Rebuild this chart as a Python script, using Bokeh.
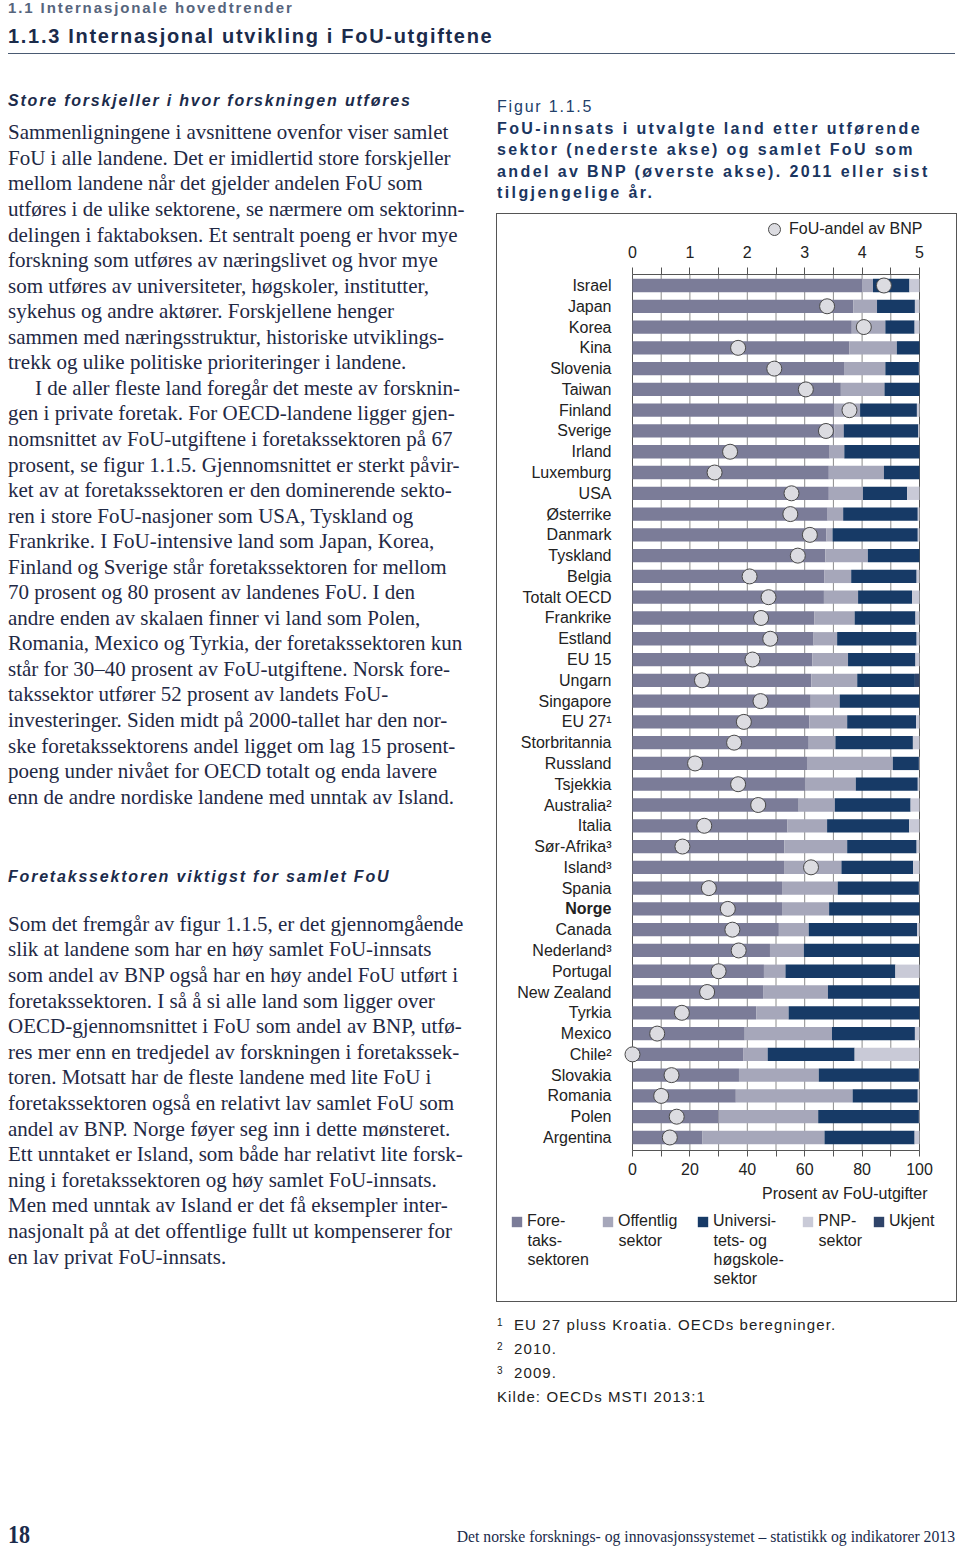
from bokeh.plotting import figure
from bokeh.models import (ColumnDataSource, Range1d, LinearAxis, FixedTicker,
                          Legend, LegendItem, Label, Div)
from bokeh.layouts import column, row
from bokeh.core.properties import value
from bokeh.embed import file_html
from bokeh.resources import INLINE

# ---------------- data ----------------
countries = ["Israel", "Japan", "Korea", "Kina", "Slovenia", "Taiwan", "Finland", "Sverige",
             "Irland", "Luxemburg", "USA", "Østerrike", "Danmark", "Tyskland", "Belgia",
             "Totalt OECD", "Frankrike", "Estland", "EU 15", "Ungarn", "Singapore", "EU 27¹",
             "Storbritannia", "Russland", "Tsjekkia", "Australia²", "Italia", "Sør-Afrika³",
             "Island³", "Spania", "Norge", "Canada", "Nederland³", "Portugal", "New Zealand",
             "Tyrkia", "Mexico", "Chile²", "Slovakia", "Romania", "Polen", "Argentina"]
foretak = [80.0, 76.9, 76.4, 75.6, 73.7, 72.6, 70.2, 70.3, 68.7, 68.4,
           68.4, 68.0, 67.6, 67.2, 66.9, 66.7, 63.4, 63.1, 62.7, 62.3,
           62.1, 61.6, 61.4, 60.8, 60.1, 57.9, 54.0, 52.9, 52.8, 52.1,
           52.1, 51.0, 47.9, 45.8, 45.5, 43.1, 39.1, 38.7, 37.1, 36.0,
           30.0, 24.4]
offentlig = [3.8, 8.3, 11.7, 16.5, 14.4, 15.2, 9.1, 3.3, 5.1, 19.2,
             11.9, 5.4, 2.1, 14.8, 9.3, 11.9, 14.0, 8.2, 12.4, 16.0,
             10.1, 13.2, 9.3, 29.9, 17.7, 12.6, 13.8, 21.9, 20.0, 19.4,
             16.4, 10.4, 11.8, 7.5, 22.6, 11.3, 30.4, 8.4, 27.8, 40.7,
             34.7, 42.5]
universitet = [12.7, 13.2, 10.2, 7.9, 11.7, 12.2, 19.8, 26.0, 26.2, 12.4,
               15.4, 26.0, 29.7, 18.0, 22.8, 18.8, 21.2, 27.7, 23.5, 20.1,
               27.8, 24.0, 27.0, 9.1, 21.6, 26.4, 28.6, 24.2, 25.0, 28.3,
               31.5, 37.8, 40.3, 38.3, 31.9, 45.6, 28.9, 30.3, 34.9, 22.7,
               35.1, 31.4]
pnp = [3.5, 1.6, 1.7, 0.0, 0.2, 0.0, 0.9, 0.4, 0.0, 0.0,
       4.3, 0.6, 0.6, 0.0, 1.0, 2.6, 1.4, 1.0, 1.4, 0.0,
       0.0, 1.2, 2.3, 0.2, 0.6, 3.1, 3.6, 1.0, 2.2, 0.2,
       0.0, 0.8, 0.0, 8.4, 0.0, 0.0, 1.6, 22.6, 0.2, 0.6,
       0.2, 1.7]
ukjent = [0.0, 0.0, 0.0, 0.0, 0.0, 0.0, 0.0, 0.0, 0.0, 0.0,
          0.0, 0.0, 0.0, 0.0, 0.0, 0.0, 0.0, 0.0, 0.0, 1.6,
          0.0, 0.0, 0.0, 0.0, 0.0, 0.0, 0.0, 0.0, 0.0, 0.0,
          0.0, 0.0, 0.0, 0.0, 0.0, 0.0, 0.0, 0.0, 0.0, 0.0,
          0.0, 0.0]
fou_bnp = [4.38, 3.39, 4.03, 1.84, 2.47, 3.02, 3.78, 3.37, 1.70, 1.43,
           2.77, 2.75, 3.09, 2.88, 2.04, 2.37, 2.24, 2.40, 2.09, 1.21,
           2.23, 1.94, 1.77, 1.09, 1.84, 2.19, 1.25, 0.87, 3.11, 1.33,
           1.66, 1.74, 1.85, 1.50, 1.30, 0.86, 0.43, 0.0, 0.68, 0.50,
           0.77, 0.65]
pct_ticks = [0, 20, 40, 60, 80, 100]
pct_minor = [10, 30, 50, 70, 90]
pct_grid = [10, 20, 30, 40, 50, 60, 70, 80, 90]
pct_edges = [0, 100]
bnp_ticks = [0, 1, 2, 3, 4, 5]
bnp_minor = [0.5, 1.5, 2.5, 3.5, 4.5]
sector_keys = ["fore", "off", "univ", "pnp", "ukj"]
sector_labels = [["Fore-", "taks-", "sektoren"], ["Offentlig", "sektor"],
                 ["Universi-", "tets- og", "høgskole-", "sektor"], ["PNP-", "sektor"], ["Ukjent"]]
sector_colors = ["#7b7c98", "#a6a7ba", "#173a66", "#c9cad7", "#2f4469"]

SANS = "Liberation Sans"
SERIF = "Liberation Serif"
TXT = "#222222"

# ---------------- chart geometry (pixels inside the framed box) ----------------
FIG_W, FIG_H = 459, 1087
LEFT_PX = 135            # 0 % line, from box left
PX_PER_PCT = 2.87
ROW0_PX = 71             # centre of first bar, from box top
PX_PER_ROW = 20.78
x_lo = -LEFT_PX / PX_PER_PCT
x_hi = x_lo + FIG_W / PX_PER_PCT
y_top = -ROW0_PX / PX_PER_ROW
y_bot = y_top + FIG_H / PX_PER_ROW
bar_top = -0.53          # edge of bar area (top axis sits here)
bar_bot = 41.63          # edge of bar area (bottom axis sits here)


def px_to_x(px):
    return x_lo + px / PX_PER_PCT


def px_to_y(py):
    return y_top + py / PX_PER_ROW


src = ColumnDataSource(dict(
    idx=list(range(len(countries))), country=countries,
    style=["bold" if c == "Norge" else "normal" for c in countries],
    fore=foretak, off=offentlig, univ=universitet, pnp=pnp, ukj=ukjent, bnp=fou_bnp))

p = figure(width=FIG_W, height=FIG_H, x_range=Range1d(x_lo, x_hi), y_range=Range1d(y_bot, y_top),
           output_backend="svg", toolbar_location=None, y_axis_location=None, title=None,
           min_border=0, min_border_left=0, min_border_right=0, min_border_top=0, min_border_bottom=0,
           styles={"outline": "1.5px solid #555555"}, margin=0)
p.extra_x_ranges = {"bnp": Range1d(x_lo / 20, x_hi / 20)}
p.background_fill_color = "white"
p.border_fill_alpha = 0
p.outline_line_color = None
p.xgrid.grid_line_color = None
p.ygrid.grid_line_color = None

# grid lines over the bar area
p.segment(x0=pct_grid, x1=pct_grid, y0=[bar_top] * len(pct_grid), y1=[bar_bot] * len(pct_grid),
          line_color="#8c8c8c", line_width=1)
p.segment(x0=pct_edges, x1=pct_edges, y0=[bar_top] * 2, y1=[bar_bot] * 2,
          line_color="#555555", line_width=1)

bars = p.hbar_stack(sector_keys, y="idx", height=0.64, color=sector_colors,
                    line_color=None, source=src)
circ = p.scatter("bnp", "idx", x_range_name="bnp", source=src, size=15,
                 fill_color="#dcdce1", line_color="#4a4a4a", line_width=1)

p.text(x=0, y="idx", text="country", source=src, x_offset=-21,
       text_align="right", text_baseline="middle",
       text_font=value(SANS), text_font_size="16px",
       text_font_style="style", text_color=TXT)


def style_axis(ax, tick, standoff):
    ax.major_tick_in = 0
    ax.major_tick_out = tick
    ax.minor_tick_in = 0
    ax.minor_tick_out = tick
    ax.axis_line_color = "#555555"
    ax.major_tick_line_color = "#555555"
    ax.minor_tick_line_color = "#555555"
    ax.major_label_text_font = SANS
    ax.major_label_text_font_size = "16px"
    ax.major_label_text_color = TXT
    ax.major_label_standoff = standoff


xax = p.xaxis[0]
xax.ticker = FixedTicker(ticks=pct_ticks, minor_ticks=pct_minor)
xax.bounds = (0, 100)
xax.fixed_location = bar_bot
style_axis(xax, 6, 6)

top = LinearAxis(x_range_name="bnp", ticker=FixedTicker(ticks=bnp_ticks, minor_ticks=bnp_minor))
top.bounds = (0, 5)
top.fixed_location = bar_top
style_axis(top, 7, 9)
p.add_layout(top, "above")

p.add_layout(Label(x=100, y=px_to_y(979), x_offset=8, text="Prosent av FoU-utgifter",
                   text_align="right", text_baseline="middle", text_font=SANS,
                   text_font_size="16px", text_color=TXT))

# legend for the circles
p.add_layout(Legend(items=[LegendItem(label="FoU-andel av BNP", renderers=[circ])],
                    location=(262, FIG_H - 30), orientation="horizontal",
                    glyph_width=30, glyph_height=30, label_standoff=0, padding=0, margin=0,
                    border_line_alpha=0, background_fill_alpha=0,
                    label_text_font=SANS, label_text_font_size="16px", label_text_color=TXT))

# legend for the sectors: one entry each, extra label lines written below
leg_x = [13, 104, 199, 304, 375]   # left edge of each entry, px from box left
LEG_ROW_PX = 1007                    # centre of first label line, px from box top
LEG_LINE_PX = 19
for lab, r, lx in zip(sector_labels, bars, leg_x):
    p.add_layout(Legend(items=[LegendItem(label=lab[0], renderers=[r])],
                        location=(lx, FIG_H - LEG_ROW_PX - 10), orientation="horizontal",
                        glyph_width=13, glyph_height=13, label_standoff=4, label_height=20,
                        padding=0, margin=0, border_line_alpha=0, background_fill_alpha=0,
                        label_text_font=SANS, label_text_font_size="16px", label_text_color=TXT))
    if len(lab) > 1:
        extra = lab[1:]
        p.text(x=[px_to_x(lx + 17)] * len(extra),
               y=[px_to_y(LEG_ROW_PX + LEG_LINE_PX * (k + 1)) for k in range(len(extra))],
               text=extra, text_align="left", text_baseline="middle",
               text_font=value(SANS), text_font_size="16px", text_color=TXT)


# ---------------- page text ----------------
def t(x, y, s, size, lh, font, weight="normal", fstyle="normal", ls=0, color=TXT, extra=""):
    return (f'<div style="position:absolute;left:{x}px;top:{y}px;white-space:pre;'
            f"font-family:'{font}';font-size:{size}px;line-height:{lh}px;font-weight:{weight};"
            f'font-style:{fstyle};letter-spacing:{ls}px;color:{color};{extra}">{s}</div>')


def box(w, h, items):
    return Div(text=f'<div style="position:relative;width:{w}px;height:{h}px;overflow:visible;">'
                    + "".join(items) + "</div>", width=w, height=h, margin=0)


NAVY = "#1b2b4b"
BODY = "#1f2945"

header = box(960, 70, [
    t(8, 0, "1.1 Internasjonale hovedtrender", 15, 16, SANS, "bold", ls=1.9, color="#56657d"),
    t(8, 24.2, "1.1.3 Internasjonal utvikling i FoU-utgiftene", 20, 24, SANS, "bold", ls=1.7, color=NAVY),
    '<div style="position:absolute;left:8px;top:53px;width:947px;height:0px;border-top:1.5px solid #4a5a72;"></div>',
])

para12 = "\n".join([
    "Sammenligningene i avsnittene ovenfor viser samlet",
    "FoU i alle landene. Det er imidlertid store forskjeller",
    "mellom landene når det gjelder andelen FoU som",
    "utføres i de ulike sektorene, se nærmere om sektorinn-",
    "delingen i faktaboksen. Et sentralt poeng er hvor mye",
    "forskning som utføres av næringslivet og hvor mye",
    "som utføres av universiteter, høgskoler, institutter,",
    "sykehus og andre aktører. Forskjellene henger",
    "sammen med næringsstruktur, historiske utviklings-",
    "trekk og ulike politiske prioriteringer i landene.",
    '<span style="display:inline-block;width:27px"></span>I de aller fleste land foregår det meste av forsknin-',
    "gen i private foretak. For OECD-landene ligger gjen-",
    "nomsnittet av FoU-utgiftene i foretakssektoren på 67",
    "prosent, se figur 1.1.5. Gjennomsnittet er sterkt påvir-",
    "ket av at foretakssektoren er den dominerende sekto-",
    "ren i store FoU-nasjoner som USA, Tyskland og",
    "Frankrike. I FoU-intensive land som Japan, Korea,",
    "Finland og Sverige står foretakssektoren for mellom",
    "70 prosent og 80 prosent av landenes FoU. I den",
    "andre enden av skalaen finner vi land som Polen,",
    "Romania, Mexico og Tyrkia, der foretakssektoren kun",
    "står for 30–40 prosent av FoU-utgiftene. Norsk fore-",
    "takssektor utfører 52 prosent av landets FoU-",
    "investeringer. Siden midt på 2000-tallet har den nor-",
    "ske foretakssektorens andel ligget om lag 15 prosent-",
    "poeng under nivået for OECD totalt og enda lavere",
    "enn de andre nordiske landene med unntak av Island.",
])
para3 = "\n".join([
    "Som det fremgår av figur 1.1.5, er det gjennomgående",
    "slik at landene som har en høy samlet FoU-innsats",
    "som andel av BNP også har en høy andel FoU utført i",
    "foretakssektoren. I så å si alle land som ligger over",
    "OECD-gjennomsnittet i FoU som andel av BNP, utfø-",
    "res mer enn en tredjedel av forskningen i foretakssek-",
    "toren. Motsatt har de fleste landene med lite FoU i",
    "foretakssektoren også en relativt lav samlet FoU som",
    "andel av BNP. Norge føyer seg inn i dette mønsteret.",
    "Ett unntaket er Island, som både har relativt lite forsk-",
    "ning i foretakssektoren og høy samlet FoU-innsats.",
    "Men med unntak av Island er det få eksempler inter-",
    "nasjonalt på at det offentlige fullt ut kompenserer for",
    "en lav privat FoU-innsats.",
])

left = box(497, 1350, [
    t(8, 21.4, "Store forskjeller i hvor forskningen utføres", 16, 20, SANS, "bold", "italic", 1.8, NAVY),
    t(8, 50.4, para12, 21, 25.54, SERIF, color=BODY),
    t(8, 797.4, "Foretakssektoren viktigst for samlet FoU", 16, 20, SANS, "bold", "italic", 1.8, NAVY),
    t(8, 841.9, para3, 21, 25.6, SERIF, color=BODY),
])

title_div = box(463, 144, [
    t(0, 27.4, "Figur 1.1.5", 16, 20, SANS, ls=1.8, color="#22406a"),
    t(0, 48.0, "FoU-innsats i utvalgte land etter utførende\n"
               "sektor (nederste akse) og samlet FoU som\n"
               "andel av BNP (øverste akse). 2011 eller sist\n"
               "tilgjengelige år.", 16, 21.3, SANS, "bold", ls=2.4, color="#1a3560"),
])

foot_div = box(463, 119, [
    t(0, 16, "1", 10, 12, SANS, color=TXT),
    t(17, 14.4, "EU 27 pluss Kroatia. OECDs beregninger.", 15, 20, SANS, ls=1.1, color=TXT),
    t(0, 40, "2", 10, 12, SANS, color=TXT),
    t(17, 38.4, "2010.", 15, 20, SANS, ls=1.1, color=TXT),
    t(0, 64, "3", 10, 12, SANS, color=TXT),
    t(17, 62.4, "2009.", 15, 20, SANS, ls=1.1, color=TXT),
    t(0, 86.4, "Kilde: OECDs MSTI 2013:1", 15, 20, SANS, ls=1.1, color=TXT),
])

footer = box(960, 128, [
    t(8, 101, "18", 26, 28, SERIF, "bold", color=NAVY,
      extra="transform:scaleX(0.85);transform-origin:left center;"),
    t(0, 106.5, "Det norske forsknings- og innovasjonssystemet – statistikk og indikatorer 2013",
      17, 20, SERIF, color=NAVY,
      extra="width:955px;text-align:right;transform:scaleX(0.925);transform-origin:right center;"),
])

right = column(title_div, p, foot_div, spacing=0, margin=0)
body = row(left, right, spacing=0, margin=0)
page = column(header, body, footer, spacing=0, margin=0)

with open("out.html", "w", encoding="utf-8") as f:
    f.write(file_html(page, INLINE))
